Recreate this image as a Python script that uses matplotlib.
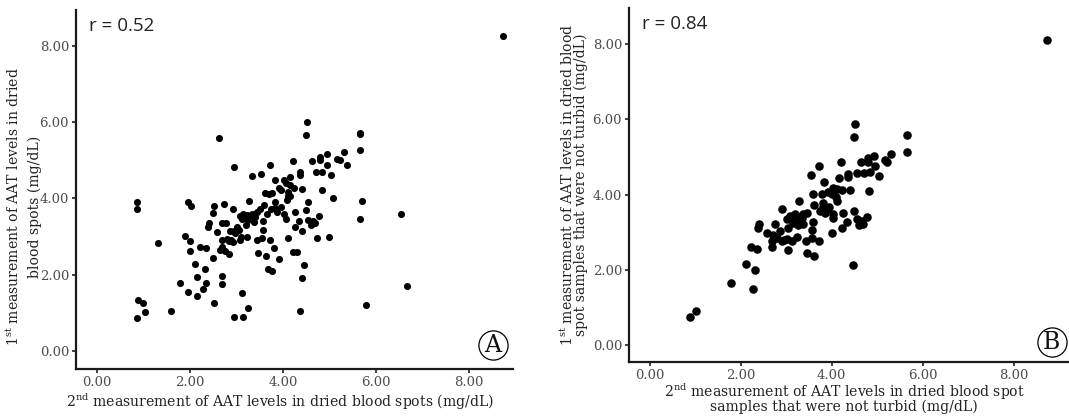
import matplotlib
matplotlib.use('Agg')
import matplotlib.pyplot as plt
import numpy as np

plt.rcParams['font.family'] = ['DejaVu Serif']
plt.rcParams['mathtext.fontset'] = 'dejavuserif'

# Panel A: all samples (2nd measurement, 1st measurement), mg/dL
a_x = [8.73, 4.52, 4.50, 2.63, 5.66, 5.66, 5.65, 5.31, 4.94, 4.79, 4.79, 5.16, 5.22, 5.39,
       4.95, 4.62, 4.21, 3.72, 2.95, 4.72, 4.85, 5.04, 4.36, 4.36, 3.54, 3.33, 4.15, 3.83,
       4.02, 4.06, 3.92, 4.16, 4.23, 4.41, 4.84, 4.10, 3.76, 3.61, 4.11, 4.09, 5.07, 5.71,
       4.53, 3.82, 3.28, 0.86, 0.87, 1.96, 2.02, 2.51, 2.74, 2.92, 2.49, 3.60, 3.84, 3.75,
       3.96, 3.88, 4.03, 4.06, 4.27, 4.49, 4.77, 4.54, 4.65, 4.69, 4.61, 4.34, 4.27, 4.41,
       4.12, 4.73, 5.00, 5.66, 6.54, 3.44, 3.51, 3.33, 3.14, 3.23, 3.12, 3.25, 3.37, 3.20,
       3.58, 3.57, 3.02, 3.05, 2.87, 2.97, 2.59, 2.42, 2.40, 2.70, 2.77, 3.09, 3.08, 3.23,
       3.44, 3.56, 3.72, 2.70, 2.80, 2.89, 2.93, 2.69, 2.64, 1.89, 2.01, 1.31, 2.22, 2.34,
       2.01, 2.84, 3.46, 3.63, 3.80, 3.92, 2.49, 4.22, 4.30, 2.12, 2.32, 3.68, 3.76, 4.46,
       4.41, 2.69, 2.69, 2.15, 2.34, 1.78, 2.28, 1.96, 2.16, 3.13, 6.68, 0.88, 1.00, 2.52,
       3.26, 5.79, 1.03, 1.60, 4.37, 0.87, 2.95, 3.15, 3.08, 3.18, 3.30, 3.40, 2.85, 2.95,
       3.70, 3.95, 4.15, 3.65, 2.75]
a_y = [8.25, 6.00, 5.65, 5.58, 5.72, 5.68, 5.26, 5.22, 5.16, 5.09, 5.00, 5.04, 5.00, 4.87,
       4.87, 4.97, 4.98, 4.88, 4.83, 4.69, 4.69, 4.62, 4.68, 4.61, 4.63, 4.59, 4.55, 4.48,
       4.48, 4.39, 4.28, 4.35, 4.26, 4.24, 4.21, 4.17, 4.15, 4.15, 4.06, 3.95, 4.02, 3.92,
       3.89, 3.89, 3.94, 3.89, 3.72, 3.90, 3.79, 3.80, 3.85, 3.73, 3.62, 3.82, 3.75, 3.71,
       3.76, 3.63, 3.59, 3.47, 3.63, 3.69, 3.53, 3.43, 3.40, 3.36, 3.30, 3.40, 3.25, 3.14,
       2.97, 2.97, 2.99, 3.47, 3.60, 3.65, 3.71, 3.60, 3.60, 3.56, 3.47, 3.43, 3.37, 3.30,
       3.40, 3.18, 3.25, 3.17, 3.14, 3.08, 3.11, 3.34, 3.25, 3.36, 3.34, 2.98, 2.91, 2.99,
       2.91, 2.97, 2.91, 2.92, 2.94, 2.92, 2.85, 2.73, 2.64, 3.02, 2.89, 2.84, 2.73, 2.69,
       2.63, 2.54, 2.56, 2.49, 2.71, 2.42, 2.43, 2.60, 2.60, 2.27, 2.14, 2.16, 2.10, 2.25,
       1.90, 1.96, 1.75, 1.93, 1.79, 1.77, 1.62, 1.55, 1.45, 1.52, 1.71, 1.34, 1.25, 1.27,
       1.14, 1.21, 1.03, 1.05, 1.06, 0.87, 0.88, 0.88, 3.54, 3.52, 3.48, 3.50, 2.88, 3.15,
       4.12, 4.22, 4.05, 3.60, 2.62]

# Panel B: samples that were not turbid
b_x = [8.73, 4.52, 4.50, 5.66, 5.66, 5.30, 4.94, 4.81, 4.81, 5.17, 5.21, 4.96, 4.64, 4.20,
       3.73, 5.05, 4.84, 4.71, 4.55, 4.37, 4.37, 3.54, 4.17, 3.83, 4.02, 4.11, 4.22, 4.41,
       3.91, 3.78, 3.60, 4.10, 4.11, 4.83, 3.29, 3.82, 2.92, 3.61, 3.82, 3.95, 3.74, 3.86,
       4.04, 4.26, 4.04, 4.50, 4.77, 4.55, 4.66, 4.70, 4.61, 4.34, 4.22, 4.00, 3.60, 3.56,
       3.73, 3.43, 3.56, 3.45, 3.62, 4.46, 3.19, 3.08, 3.01, 3.16, 3.23, 3.30, 3.37, 3.45,
       3.26, 3.37, 3.04, 2.86, 2.71, 2.59, 2.75, 2.41, 2.39, 2.68, 2.79, 2.90, 3.01, 3.12,
       3.23, 2.70, 3.04, 2.22, 2.36, 2.11, 2.32, 1.78, 2.28, 1.02, 0.88, 4.00, 3.20, 3.35,
       3.90, 3.15, 2.95]
b_y = [8.12, 5.89, 5.53, 5.58, 5.13, 5.08, 5.04, 4.97, 4.86, 4.91, 4.86, 4.75, 4.86, 4.86,
       4.75, 4.50, 4.59, 4.58, 4.58, 4.55, 4.46, 4.52, 4.43, 4.34, 4.19, 4.15, 4.13, 4.12,
       4.08, 4.03, 4.03, 3.93, 3.84, 4.09, 3.82, 3.77, 3.61, 3.72, 3.66, 3.68, 3.57, 3.52,
       3.48, 3.51, 3.37, 3.57, 3.41, 3.35, 3.30, 3.23, 3.19, 3.28, 3.12, 2.99, 3.28, 3.06,
       2.78, 2.78, 2.84, 2.44, 2.36, 2.14, 3.48, 3.43, 3.35, 3.30, 3.39, 3.30, 3.48, 3.52,
       3.19, 3.23, 3.12, 3.03, 2.94, 2.99, 3.23, 3.23, 3.12, 2.78, 2.84, 2.77, 2.81, 2.78,
       2.87, 2.60, 2.54, 2.60, 2.56, 2.16, 2.01, 1.65, 1.50, 0.91, 0.76, 4.01, 3.42, 3.38,
       3.62, 3.25, 2.80]

ticks = [0, 2, 4, 6, 8]
tick_labels = ['0.00', '2.00', '4.00', '6.00', '8.00']

fig = plt.figure(figsize=(10.69, 4.16), dpi=100)
axA = fig.add_axes([76/1069, 1-369/416, 437/1069, 359/416])
axB = fig.add_axes([629/1069, 1-362/416, 440/1069, 354/416])

def style(ax):
    for s in ['top', 'right']:
        ax.spines[s].set_visible(False)
    for s in ['left', 'bottom']:
        ax.spines[s].set_linewidth(1.6)
        ax.spines[s].set_color('#1a1a1a')
    ax.set_xticks(ticks, tick_labels)
    ax.set_yticks(ticks, tick_labels)
    ax.tick_params(length=3, width=1.3, color='#333333', labelcolor='#4d4d4d',
                   labelsize=9.5, pad=2)

def panel_mark(ax, fx, fy, letter):
    # circled panel letter, lower right corner
    ax.plot([fx], [fy], 'o', ms=21, mfc='white', mec='black', mew=0.9,
            transform=ax.transAxes, clip_on=False, zorder=5)
    ax.text(fx, fy - 0.002, letter, transform=ax.transAxes, fontsize=17,
            ha='center', va='center', color='#111111', zorder=6)

axA.scatter(a_x, a_y, s=26, color='black', linewidths=0)
axA.set_xlim(-0.45, 8.95)
axA.set_ylim(-0.47, 8.93)
style(axA)
axA.set_xlabel('2$^{\\mathrm{nd}}$ measurement of AAT levels in dried blood spots (mg/dL)',
               fontsize=10.1, color='#222222')
axA.xaxis.set_label_coords(0.467, -0.063)
axA.set_ylabel('1$^{\\mathrm{st}}$ measurement of AAT levels in dried\nblood spots (mg/dL)',
               fontsize=10.1, color='#222222', linespacing=1.45)
axA.yaxis.set_label_coords(-0.078, 0.451)
axA.text(0.03, 0.955, 'r = 0.52', transform=axA.transAxes, fontsize=13.5,
         family='Open Sans', color='#222222', va='center', ha='left')
panel_mark(axA, 0.954, 0.067, 'A')

axB.scatter(b_x, b_y, s=38, color='black', linewidths=0)
axB.set_xlim(-0.455, 9.22)
axB.set_ylim(-0.447, 8.96)
style(axB)
axB.set_xlabel('2$^{\\mathrm{nd}}$ measurement of AAT levels in dried blood spot\n'
               'samples that were not turbid (mg/dL)',
               fontsize=10.1, color='#222222', linespacing=0.75)
axB.xaxis.set_label_coords(0.489, -0.056)
axB.set_ylabel('1$^{\\mathrm{st}}$ measurement of AAT levels in dried blood\n'
               'spot samples that were not turbid (mg/dL)',
               fontsize=10.1, color='#222222', labelpad=3, linespacing=0.85)
axB.text(0.03, 0.955, 'r = 0.84', transform=axB.transAxes, fontsize=13.5,
         family='Open Sans', color='#222222', va='center', ha='left')
panel_mark(axB, 0.961, 0.0565, 'B')

fig.savefig('out.png', dpi=100, facecolor='white')
